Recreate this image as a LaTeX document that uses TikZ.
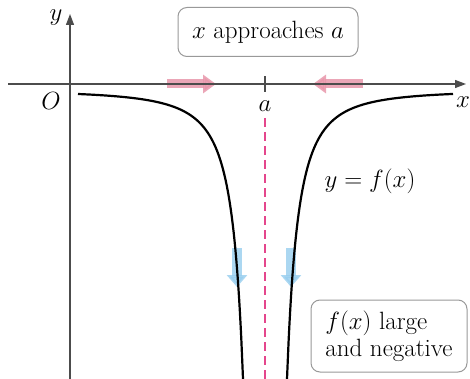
\documentclass[tikz,border=0pt]{standalone}
\usetikzlibrary{arrows.meta, calc}

\definecolor{pinkarrow}{RGB}{232,150,170}
\definecolor{pinkdash}{RGB}{228,70,140}
\definecolor{bluearrow}{RGB}{150,205,238}

\begin{document}
\begin{tikzpicture}[x=1pt, y=-1pt,
  axis/.style={draw=black!70, line width=1.2pt},
  curve/.style={draw=black, line width=2.2pt},
  labelbox/.style={draw=black!40, rounded corners=9pt, line width=1pt, fill=white, inner sep=0pt},
  bigtext/.style={font=\fontsize{25}{27}\selectfont},
  pinkmove/.style={draw=pinkarrow, line width=9pt, -{Triangle[width=18pt, length=13pt]}, opacity=0.85},
  bluemove/.style={draw=bluearrow, line width=10pt, -{Triangle[width=20pt, length=12pt]}, opacity=0.8}]

\useasboundingbox (0,0) rectangle (470,379);

% Points on the axes
\coordinate (Origin) at (70,84);
\coordinate (XStart) at (8,84);
\coordinate (XEnd) at (466,84);
\coordinate (YStart) at (70,379);
\coordinate (YEnd) at (70,14);
\coordinate (A) at (265,84);

% Motion arrows along the x axis (behind everything)
\coordinate (LeftFrom) at (167,84);
\coordinate (LeftTo) at (216,84);
\coordinate (RightFrom) at (363,84);
\coordinate (RightTo) at (313,84);
\draw[pinkmove] (LeftFrom) -- (LeftTo);
\draw[pinkmove] (RightFrom) -- (RightTo);

% Downward arrows near the asymptote
\coordinate (DownL) at (237,248);
\coordinate (DownLEnd) at (237,287);
\coordinate (DownR) at (291,248);
\coordinate (DownREnd) at (291,287);
\draw[bluemove] (DownL) -- (DownLEnd);
\draw[bluemove] (DownR) -- (DownREnd);

% Axes
\draw[axis, -{Triangle[width=8pt, length=11pt]}] (XStart) -- (XEnd);
\draw[axis, -{Triangle[width=8pt, length=11pt]}] (YStart) -- (YEnd);
\node[bigtext] (ylab) at (56,18) {$y$};
\node[bigtext] (xlab) at (463,102) {$x$};
\node[bigtext] (olab) at (51,101) {$O$};

% Tick at a and the asymptote
\draw[axis] ([yshift=-8pt]A) -- ([yshift=8pt]A);
\node[bigtext] (alab) at (265,106) {$a$};
\coordinate (AsymTop) at (265,118);
\coordinate (AsymBot) at (265,379);
\draw[pinkdash, line width=2pt, dash pattern=on 9pt off 5pt] (AsymTop) -- (AsymBot);

% The two branches of the graph
\draw[curve] plot[domain=78:243, samples=90, smooth] (\x, {90+(374/(265-\x))^2});
\draw[curve] plot[domain=287:453, samples=90, smooth] (\x, {90+(374/(\x-265))^2});
\node[bigtext] (flab) at (370,181) {$y=f(x)$};

% Text boxes
\node[labelbox, bigtext, minimum width=180pt, minimum height=49pt] (approach) at (268,32)
  {$x$ approaches $a$};
\node[labelbox, bigtext, minimum width=156pt, minimum height=72pt, align=left] (negbox) at (389,336)
  {$f(x)$ large\\and negative};

\end{tikzpicture}
\end{document}
